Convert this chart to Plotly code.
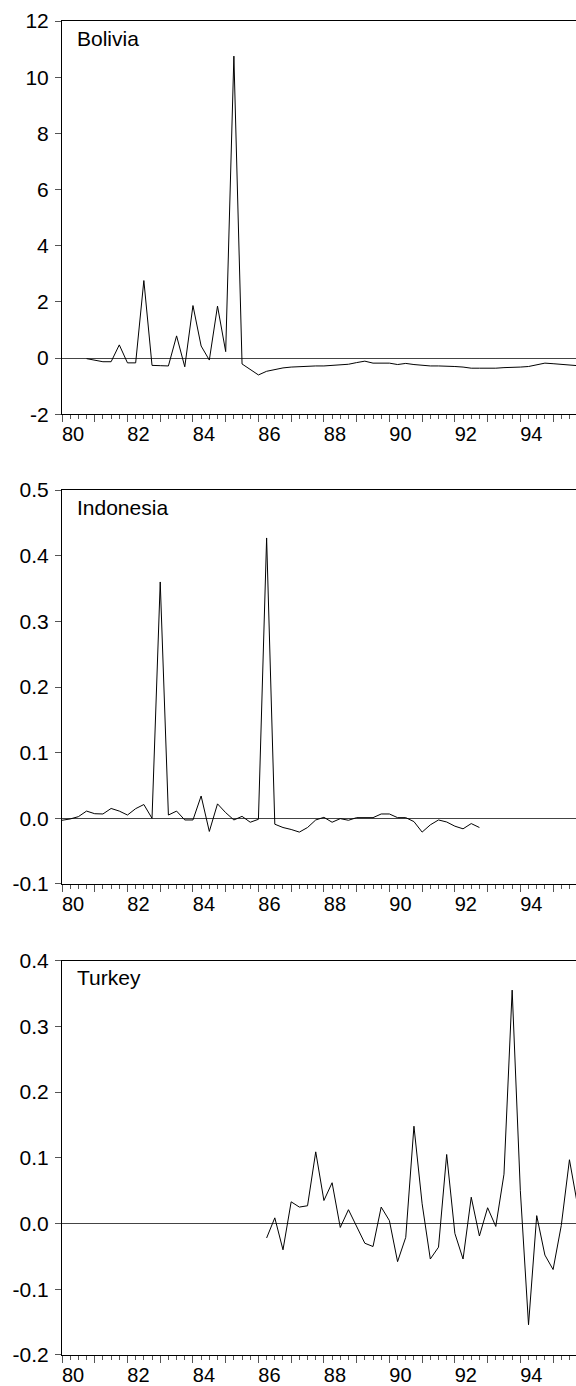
import plotly.graph_objects as go

# ---------------- data (quarterly, index k = quarters since 1980Q1) ----------------
bolivia_start = 3
bolivia = [-0.02, -0.08, -0.13, -0.13, 0.47, -0.17, -0.17, 2.76, -0.26, -0.27,
           -0.28, 0.79, -0.31, 1.87, 0.43, -0.07, 1.85, 0.23, 10.75, -0.21,
           -0.40, -0.60, -0.47, -0.40, -0.35, -0.32, -0.30, -0.28, -0.28, -0.28,
           -0.26, -0.24, -0.22, -0.16, -0.11, -0.18, -0.18, -0.18, -0.23, -0.19,
           -0.23, -0.26, -0.28, -0.28, -0.28, -0.30, -0.32, -0.36, -0.36, -0.37,
           -0.36, -0.34, -0.34, -0.32, -0.30, -0.25, -0.18, -0.20, -0.22, -0.26,
           -0.27]

indonesia_start = 0
indonesia = [-0.003, -0.001, 0.0025, 0.011, 0.007, 0.0066, 0.015, 0.011, 0.005, 0.0147,
             0.021, 0.0, 0.360, 0.005, 0.011, -0.0025, -0.0025, 0.034, -0.020, 0.022,
             0.0086, -0.0025, 0.003, -0.006, -0.0015, 0.427, -0.009, -0.014, -0.017, -0.021,
             -0.014, -0.0025, 0.0015, -0.006, -0.0005, -0.003, 0.001, 0.001, 0.001, 0.0066,
             0.0066, 0.001, 0.001, -0.005, -0.021, -0.010, -0.0025, -0.0056, -0.012, -0.016,
             -0.008, -0.014]

turkey_start = 25
turkey = [-0.022, 0.0086, -0.040, 0.033, 0.025, 0.027, 0.109, 0.035, 0.062, -0.006,
          0.021, -0.005, -0.030, -0.035, 0.025, 0.0045, -0.058, -0.021, 0.148, 0.03,
          -0.054, -0.036, 0.105, -0.015, -0.054, 0.040, -0.019, 0.024, -0.0045, 0.075,
          0.355, 0.05, -0.154, 0.012, -0.048, -0.070, -0.003, 0.097, 0.027]

panel_names = ["Bolivia", "Indonesia", "Turkey"]

year_ticks = list(range(1980, 1996))
year_labels = [str(y)[2:] if y % 2 == 0 else "" for y in year_ticks]

y1_ticks = [-2, 0, 2, 4, 6, 8, 10, 12]
y1_labels = ["-2", "0", "2", "4", "6", "8", "10", "12"]
y2_ticks = [-0.1, 0.0, 0.1, 0.2, 0.3, 0.4, 0.5]
y2_labels = ["-0.1", "0.0", "0.1", "0.2", "0.3", "0.4", "0.5"]
y3_ticks = [-0.2, -0.1, 0.0, 0.1, 0.2, 0.3, 0.4]
y3_labels = ["-0.2", "-0.1", "0.0", "0.1", "0.2", "0.3", "0.4"]

X_RANGE = [1980.0, 1995.7]


def quarters(start, n):
    return [1980 + (start + i) / 4 for i in range(n)]


series = [
    (quarters(bolivia_start, len(bolivia)), bolivia),
    (quarters(indonesia_start, len(indonesia)), indonesia),
    (quarters(turkey_start, len(turkey)), turkey),
]
y_axes_spec = [
    ([-2, 12], y1_ticks, y1_labels),
    ([-0.1, 0.5], y2_ticks, y2_labels),
    ([-0.2, 0.4], y3_ticks, y3_labels),
]
domains = [[0.7052, 1.0], [0.3531, 0.6484], [0.0, 0.2957]]

FONT = "Liberation Sans, Arial, Helvetica, sans-serif"
FS = 21
FSX = 20

fig = go.Figure()
layout = dict(
    width=576, height=1386,
    margin=dict(l=62, r=0, t=21, b=31, autoexpand=False),
    paper_bgcolor="white", plot_bgcolor="white",
    showlegend=False,
    font=dict(family=FONT, size=FS, color="black"),
    annotations=[],
)

for i, ((xs, ys), (yr, yt, yl), dom) in enumerate(zip(series, y_axes_spec, domains)):
    n = "" if i == 0 else str(i + 1)
    fig.add_trace(go.Scatter(x=xs, y=ys, mode="lines",
                             line=dict(color="black", width=1),
                             xaxis="x" + n, yaxis="y" + n, hoverinfo="skip"))
    layout["xaxis" + n] = dict(
        domain=[0, 1], anchor="y" + n, range=X_RANGE, automargin=False,
        tickmode="array", tickvals=year_ticks, ticktext=year_labels,
        ticks="outside", ticklen=7, tickwidth=1, tickcolor="#555555",
        ticklabelshift=11, ticklabelstandoff=-5,
        minor=dict(dtick=0.25, tick0=1980, ticks="outside", ticklen=4,
                   tickwidth=1, tickcolor="#555555", showgrid=False),
        showline=True, linecolor="black", linewidth=1, mirror=True,
        showgrid=False, zeroline=False,
        tickfont=dict(family=FONT, size=FSX, color="black"),
    )
    layout["yaxis" + n] = dict(
        domain=dom, anchor="x" + n, range=yr, automargin=False,
        tickmode="array", tickvals=yt, ticktext=yl,
        ticks="outside", ticklen=6, tickwidth=1, tickcolor="#555555",
        ticklabelstandoff=2,
        showline=True, linecolor="black", linewidth=1,
        showgrid=False, zeroline=True, zerolinecolor="#444444", zerolinewidth=1,
        tickfont=dict(family=FONT, size=FS, color="black"),
    )
    layout["annotations"].append(dict(
        text=panel_names[i], xref="x" + n + " domain", yref="y" + n + " domain",
        x=0, y=1, xshift=13, yshift=-17, xanchor="left", yanchor="middle",
        showarrow=False, font=dict(family=FONT, size=FS, color="black"),
    ))

fig.update_layout(**layout)
fig.write_html("out.html", config=dict(displayModeBar=False),
               post_script="document.body.style.margin='0';document.body.style.padding='0';")
